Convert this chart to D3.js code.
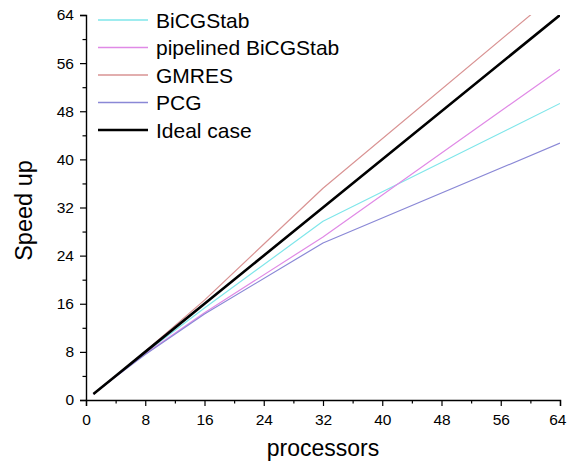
<!DOCTYPE html>
<html>
<head>
<meta charset="utf-8">
<script src="https://cdn.jsdelivr.net/npm/d3@7"></script>
<style>
  html, body { margin: 0; padding: 0; background: #fff; }
  svg { display: block; font-family: Arial, "Liberation Sans", sans-serif; }
</style>
</head>
<body>
<svg id="chart" width="567" height="461"></svg>
<script>
// Number of processors at each measurement
const processors = [1, 2, 4, 8, 16, 32, 64];

// Measured speed-up per solver
const bicgstab = [1, 2, 3.95, 7.85, 15.3, 29.7, 49.3];
const pipelinedBicgstab = [1, 1.98, 3.9, 7.7, 14.5, 27.1, 55.0];
const gmres = [1, 2, 4, 8.1, 16.6, 35.2, 68.1];
const pcg = [1, 1.97, 3.85, 7.55, 14.3, 26.1, 42.7];
const ideal = [1, 2, 4, 8, 16, 32, 64];

const seriesNames = ["BiCGStab", "pipelined BiCGStab", "GMRES", "PCG", "Ideal case"];
const seriesValues = [bicgstab, pipelinedBicgstab, gmres, pcg, ideal];
const seriesColors = ["#7fe6ea", "#e08ae6", "#d99393", "#8a88d6", "#000000"];
const seriesWidths = [1.2, 1.2, 1.2, 1.2, 2.6];

const xTicks = [0, 8, 16, 24, 32, 40, 48, 56, 64];
const yTicks = [0, 8, 16, 24, 32, 40, 48, 56, 64];
const minorTicks = d3.range(4, 64, 8);

const svg = d3.select("#chart");
const x = d3.scaleLinear().domain([0, 64]).range([86, 560]);
const y = d3.scaleLinear().domain([0, 64]).range([400, 15]);

// Clip the curves to the plotting area
svg.append("defs").append("clipPath").attr("id", "plot-clip")
  .append("rect")
  .attr("x", x(0)).attr("y", y(64))
  .attr("width", x(64) - x(0)).attr("height", y(0) - y(64));

const line = d3.line().x((d, i) => x(processors[i])).y(d => y(d));

const plot = svg.append("g").attr("clip-path", "url(#plot-clip)");
seriesValues.forEach((vals, k) => {
  plot.append("path")
    .datum(vals)
    .attr("fill", "none")
    .attr("stroke", seriesColors[k])
    .attr("stroke-width", seriesWidths[k])
    .attr("stroke-linejoin", "round")
    .attr("d", line);
});

// Axes: major ticks with labels, minor ticks without
const xAxis = d3.axisBottom(x).tickValues(xTicks).tickSize(6).tickPadding(8).tickFormat(d3.format("d"));
const yAxis = d3.axisLeft(y).tickValues(yTicks).tickSize(6).tickPadding(6).tickFormat(d3.format("d"));

const gx = svg.append("g").attr("transform", `translate(0,${y(0)})`).call(xAxis);
const gy = svg.append("g").attr("transform", `translate(${x(0)},0)`).call(yAxis);

svg.append("g").attr("transform", `translate(0,${y(0)})`)
  .call(d3.axisBottom(x).tickValues(minorTicks).tickSize(3.5).tickFormat(""))
  .call(g => g.select(".domain").remove());
svg.append("g").attr("transform", `translate(${x(0)},0)`)
  .call(d3.axisLeft(y).tickValues(minorTicks).tickSize(3.5).tickFormat(""))
  .call(g => g.select(".domain").remove());

svg.selectAll(".domain").attr("stroke", "#000").attr("stroke-width", 1.4);
svg.selectAll(".tick line").attr("stroke", "#000").attr("stroke-width", 1.2);
svg.selectAll(".tick text")
  .attr("font-size", 15.5)
  .attr("font-family", "Arial, 'Liberation Sans', sans-serif")
  .attr("fill", "#000");

// The last x label sits at the right edge; keep it inside the page
gx.selectAll(".tick text").filter(d => d === 64)
  .attr("text-anchor", "end").attr("x", 566 - x(64));

// Axis titles
svg.append("text")
  .attr("x", (x(0) + x(64)) / 2).attr("y", 456)
  .attr("text-anchor", "middle")
  .attr("font-size", 23)
  .text("processors");

svg.append("text")
  .attr("transform", `translate(32,${(y(0) + y(64)) / 2 + 3}) rotate(-90)`)
  .attr("text-anchor", "middle")
  .attr("font-size", 23.5)
  .text("Speed up");

// Legend
const legend = svg.append("g");
seriesNames.forEach((name, k) => {
  const ly = 20 + k * 27.5;
  legend.append("line")
    .attr("x1", 98).attr("x2", 148)
    .attr("y1", ly).attr("y2", ly)
    .attr("stroke", seriesColors[k])
    .attr("stroke-width", k === 4 ? 2.4 : 1.6);
  legend.append("text")
    .attr("x", 156).attr("y", ly)
    .attr("dy", "0.36em")
    .attr("font-size", 21)
    .text(name);
});
</script>
</body>
</html>
